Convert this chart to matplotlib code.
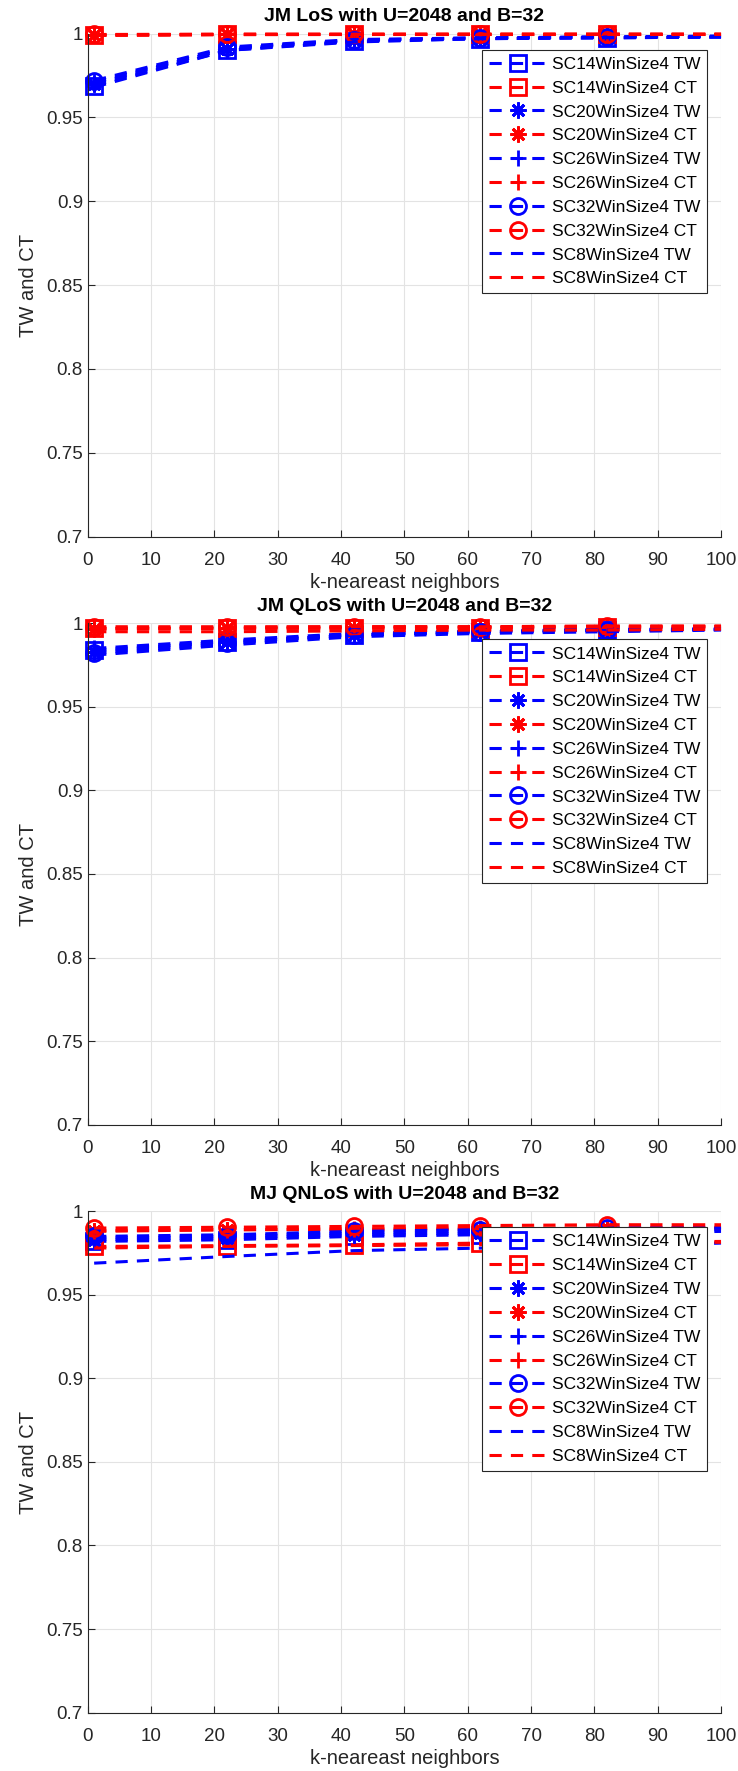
import numpy as np
import matplotlib
matplotlib.use('Agg')
import matplotlib.pyplot as plt

plt.rcParams['font.family'] = ['Liberation Sans', 'DejaVu Sans']

# Datos (k vecinos y valores TW / CT)
k = [1, 22, 42, 62, 82, 100]
configs = ['SC14WinSize4', 'SC20WinSize4', 'SC26WinSize4', 'SC32WinSize4', 'SC8WinSize4']

# JM LoS
los_tw = [[0.969, 0.990, 0.9955, 0.997, 0.9975, 0.998],
          [0.970, 0.991, 0.996, 0.997, 0.998, 0.998],
          [0.971, 0.991, 0.996, 0.9975, 0.998, 0.9985],
          [0.972, 0.992, 0.9965, 0.9975, 0.998, 0.9985],
          [0.968, 0.990, 0.995, 0.997, 0.9975, 0.998]]
los_ct = [[0.999, 0.9995, 0.9995, 0.9995, 0.9995, 0.9995],
          [0.9992, 0.9995, 0.9995, 0.9996, 0.9996, 0.9996],
          [0.9993, 0.9996, 0.9996, 0.9996, 0.9996, 0.9996],
          [0.9995, 0.9997, 0.9997, 0.9997, 0.9997, 0.9997],
          [0.999, 0.9994, 0.9995, 0.9995, 0.9995, 0.9995]]

# JM QLoS
qlos_tw = [[0.984, 0.989, 0.993, 0.995, 0.996, 0.9965],
           [0.983, 0.989, 0.993, 0.995, 0.996, 0.9965],
           [0.985, 0.990, 0.994, 0.9955, 0.9965, 0.997],
           [0.982, 0.988, 0.993, 0.995, 0.996, 0.9965],
           [0.981, 0.987, 0.992, 0.994, 0.995, 0.996]]
qlos_ct = [[0.997, 0.997, 0.9975, 0.9975, 0.998, 0.998],
           [0.9965, 0.997, 0.997, 0.9975, 0.9975, 0.998],
           [0.997, 0.9975, 0.998, 0.998, 0.998, 0.998],
           [0.998, 0.998, 0.998, 0.998, 0.9985, 0.9985],
           [0.995, 0.995, 0.9955, 0.996, 0.996, 0.9965]]

# MJ QNLoS
qnlos_tw = [[0.982, 0.983, 0.985, 0.986, 0.987, 0.988],
            [0.983, 0.984, 0.986, 0.987, 0.988, 0.989],
            [0.984, 0.985, 0.987, 0.988, 0.989, 0.990],
            [0.985, 0.986, 0.988, 0.989, 0.990, 0.990],
            [0.969, 0.973, 0.9765, 0.978, 0.979, 0.981]]
qnlos_ct = [[0.979, 0.9795, 0.980, 0.981, 0.9815, 0.982],
            [0.988, 0.989, 0.989, 0.9895, 0.990, 0.990],
            [0.9885, 0.989, 0.9895, 0.990, 0.990, 0.9905],
            [0.990, 0.9905, 0.991, 0.9915, 0.992, 0.992],
            [0.978, 0.979, 0.9795, 0.980, 0.981, 0.9815]]

titles = ['JM LoS with U=2048 and B=32', 'JM QLoS with U=2048 and B=32',
          'MJ QNLoS with U=2048 and B=32']
paneles = [(los_tw, los_ct), (qlos_tw, qlos_ct), (qnlos_tw, qnlos_ct)]

# cuadrado, asterisco (8 brazos), mas, circulo, sin marcador
markers = ['s', (8, 2, 0), '+', 'o', 'None']
yticks = [0.7, 0.75, 0.8, 0.85, 0.9, 0.95, 1]

fig = plt.figure(figsize=(7.38, 17.71), dpi=100)
# posiciones de los ejes (medidas a ojo)
posiciones = [[0.119, 0.697, 0.858, 0.284],
              [0.119, 0.365, 0.858, 0.283],
              [0.119, 0.033, 0.858, 0.283]]

for pos, titulo, (tw, ct) in zip(posiciones, titles, paneles):
    ax = fig.add_axes(pos)
    for i, nombre in enumerate(configs):
        for vals, col, suf in [(tw[i], 'b', 'TW'), (ct[i], 'r', 'CT')]:
            ax.plot(k, vals, color=col, ls='--', dashes=(4, 3), lw=2.2,
                    marker=markers[i], ms=11.5, mew=2, mfc='none',
                    markevery=[0, 1, 2, 3, 4], label=nombre + ' ' + suf,
                    clip_on=False)
    ax.set_xlim(0, 100)
    ax.set_ylim(0.7, 1)
    ax.set_xticks(range(0, 101, 10))
    ax.set_yticks(yticks)
    ax.set_yticklabels(['0.7', '0.75', '0.8', '0.85', '0.9', '0.95', '1'])
    ax.grid(True, color='#e3e3e3', lw=0.8)
    ax.set_axisbelow(True)
    for s in ['top', 'right']:
        ax.spines[s].set_visible(False)
    for s in ['left', 'bottom']:
        ax.spines[s].set_color('#262626')
    ax.tick_params(direction='in', labelsize=13.5, colors='#262626', length=5)
    ax.tick_params(axis='x', pad=11)
    ax.set_xlabel('k-neareast neighbors', fontsize=14.5, color='#262626', labelpad=3)
    ax.set_ylabel('TW and CT', fontsize=14.5, color='#262626', labelpad=6)
    ax.set_title(titulo, fontsize=14, fontweight='bold', pad=9)
    leg = ax.legend(loc='upper right', bbox_to_anchor=(0.978, 0.968), fontsize=12.5,
                    handlelength=3.3, handletextpad=0.3, labelspacing=0.5,
                    borderpad=0.4, borderaxespad=0, fancybox=False,
                    edgecolor='#262626', framealpha=1)
    leg.get_frame().set_linewidth(0.8)

plt.savefig('out.png', dpi=100)
